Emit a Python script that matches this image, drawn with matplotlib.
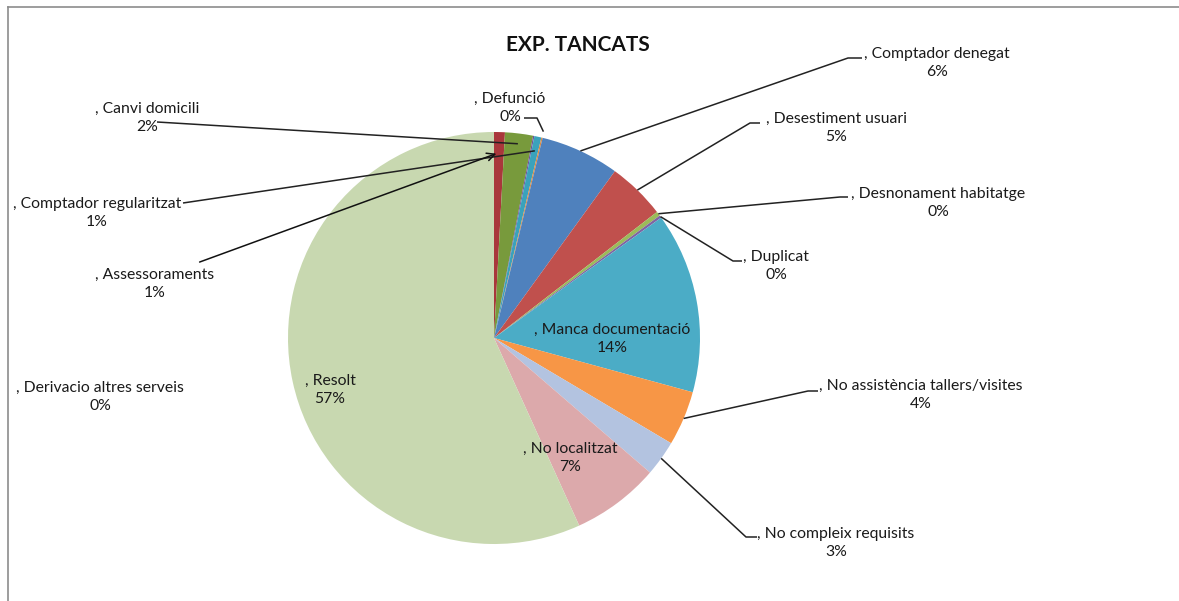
import matplotlib
matplotlib.use("Agg")
import matplotlib.pyplot as plt
import numpy as np

# ---------------- data (clockwise from 12 o'clock) ----------------
categories = ["Assessoraments", "Canvi domicili", "Derivacio altres serveis",
              "Comptador regularitzat", "Defunció", "Comptador denegat",
              "Desestiment usuari", "Desnonament habitatge", "Duplicat",
              "Manca documentació", "No assistència tallers/visites",
              "No compleix requisits", "No localitzat", "Resolt"]
values = [0.85, 2.2, 0.1, 0.55, 0.1, 6.2, 4.55, 0.35, 0.2, 14.2, 4.3, 2.8, 6.9, 56.9]
colors = ["#A9373B", "#789A3C", "#6F4F9A", "#3AA2BC", "#E0873A", "#4F81BD",
          "#C0504D", "#9BBB59", "#8064A2", "#4BACC6", "#F79646",
          "#B3C3E0", "#DCA9AB", "#C8D8B0"]
title = "EXP. TANCATS"

W, H = 1179, 601
fig = plt.figure(figsize=(W / 100, H / 100), dpi=100)
ax = fig.add_axes([0, 0, 1, 1])

def py(y):
    return H - y

cx, cy, R = 494, py(338), 206
wedges, _ = ax.pie(values, colors=colors, startangle=90, counterclock=False,
                   center=(cx, cy), radius=R, wedgeprops=dict(linewidth=0))
ax.set_xlim(0, W)
ax.set_ylim(0, H)
ax.set_aspect("auto")
ax.axis("off")

total = sum(values)
pcts = [f"{int(round(v / total * 100 + 1e-9))}%" for v in values]

FONT = ["Lato", "DejaVu Sans"]
TXT = "#1a1a1a"

# label block centers (pixel coords)
label_pos = {
    "Assessoraments": (155, 284),
    "Canvi domicili": (147, 118),
    "Derivacio altres serveis": (100, 397),
    "Comptador regularitzat": (97, 213),
    "Defunció": (510, 108),
    "Comptador denegat": (937, 63),
    "Desestiment usuari": (836, 128),
    "Desnonament habitatge": (938, 203),
    "Duplicat": (776, 266),
    "Manca documentació": (612, 339),
    "No assistència tallers/visites": (921, 395),
    "No compleix requisits": (836, 543),
    "No localitzat": (570, 458),
    "Resolt": (330, 390),
}

# leader lines: (points near text in pixel coords, radial fraction of anchor, arrow)
leaders = {
    "Assessoraments": ([(197, 263)], 0.90, True),
    "Canvi domicili": ([(157, 122)], 0.95, False),
    "Comptador regularitzat": ([(183, 203)], 0.93, False),
    "Defunció": ([(524, 118), (537, 118)], 1.03, False),
    "Comptador denegat": ([(862, 58), (848, 58)], 1.0, False),
    "Desestiment usuari": ([(760, 123), (750, 123)], 1.0, False),
    "Desnonament habitatge": ([(848, 197), (840, 197)], 1.0, False),
    "Duplicat": ([(742, 261), (733, 261)], 1.0, False),
    "No assistència tallers/visites": ([(818, 391), (808, 391)], 1.0, False),
    "No compleix requisits": ([(757, 537), (746, 537)], 1.0, False),
}

for w, name, pct in zip(wedges, categories, pcts):
    x, y = label_pos[name]
    ax.text(x, py(y), f", {name}\n{pct}", ha="center", va="center",
            fontsize=11.3, family=FONT, color=TXT, linespacing=1.4)
    if name in leaders:
        pts, frac, arrow = leaders[name]
        mid = np.deg2rad((w.theta1 + w.theta2) / 2)
        ax_ = cx + frac * R * np.cos(mid)
        ay_ = cy + frac * R * np.sin(mid)
        xs = [p[0] for p in pts]
        ys = [py(p[1]) for p in pts]
        if arrow:
            ax.annotate("", xy=(ax_, ay_), xytext=(xs[0], ys[0]),
                        arrowprops=dict(arrowstyle="->", color="#111111", lw=1.1,
                                        mutation_scale=14))
        else:
            ax.plot(xs + [ax_], ys + [ay_], color="#222222", lw=1.1,
                    solid_capstyle="butt")

ax.text(578, py(45), title, ha="center", va="center", fontsize=15,
        fontweight="bold", family=FONT, color="#111111")

# chart area border
fig.add_artist(plt.Line2D([8 / W, 8 / W], [0, py(7) / H], transform=fig.transFigure,
                          color="#8c8c8c", lw=1.2))
fig.add_artist(plt.Line2D([8 / W, 1], [py(7) / H, py(7) / H], transform=fig.transFigure,
                          color="#8c8c8c", lw=1.2))

fig.savefig("out.png", dpi=100, facecolor="white")
